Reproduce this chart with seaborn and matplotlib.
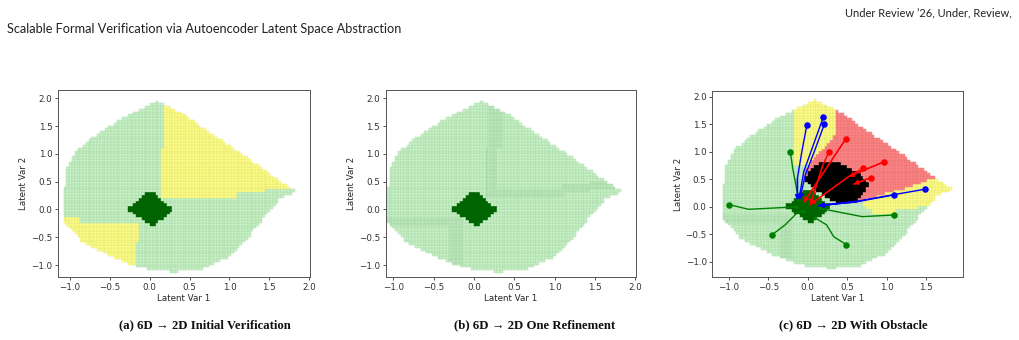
import numpy as np
import matplotlib
matplotlib.use("Agg")
import matplotlib.pyplot as plt
import seaborn as sns
from matplotlib.path import Path
from matplotlib.collections import PolyCollection

# ---------------- data ----------------
grid_x0, grid_x1, grid_dx = -1.08, 1.87, 0.035
grid_y0, grid_y1, grid_dy = -1.14, 1.99, 0.05

# reachable latent domain boundary
domain_x = [0.09, 0.37, 0.83, 1.26, 1.68, 1.83, 1.64, 1.47, 1.26, 1.01, 0.63, 0.30, 0.00,
            -0.29, -0.58, -0.85, -1.065, -1.07, -1.04, -0.92, -0.70, -0.45, -0.22]
domain_y = [1.96, 1.76, 1.31, 0.89, 0.46, 0.32, 0.20, -0.07, -0.455, -0.845, -1.08, -1.12, -1.08,
            -0.96, -0.77, -0.57, -0.22, 0.32, 0.70, 1.06, 1.30, 1.55, 1.72]

# goal set (dark green diamond)
goal_x = [-0.29, -0.05, 0.05, 0.30, 0.05]
goal_y = [0.00, 0.30, 0.30, 0.00, -0.31]

# (a) unverified (yellow) regions
ya1_x = [0.14, 1.09, 1.09, 1.43, 1.43, 2.50, 2.50, 0.19, 0.19, 0.14]
ya1_y = [0.22, 0.22, 0.30, 0.30, 0.38, 0.38, 2.50, 2.50, 1.12, 1.12]
ya2_x = [-1.50, -0.88, -0.88, -0.13, -0.13, -0.18, -0.18, -1.50]
ya2_y = [-0.14, -0.14, -0.22, -0.22, -0.58, -0.58, -1.50, -1.50]

# (b) refined strips
refine_b = [(0.14, 0.27, 0.22, 1.12), (0.19, 0.36, 1.12, 1.95), (0.14, 1.12, 0.22, 0.36),
            (1.09, 1.45, 0.30, 0.44), (1.43, 1.80, 0.38, 0.50),
            (-1.10, -0.13, -0.30, -0.14), (-0.30, -0.13, -1.00, -0.14)]
refine_c = [(-1.10, -0.20, -0.28, -0.12), (-0.36, -0.20, -0.96, -0.12)]

# (c) regions
yc1_x = [-0.18, 0.35, 0.35, 0.30, 0.20, 0.10, 0.00, -0.18]
yc1_y = [2.50, 2.50, 1.37, 1.22, 1.07, 0.90, 0.75, 0.75]
red_x = [0.35, 2.50, 2.50, 1.55, 1.42, 0.72, 0.50, 0.30, 0.10, 0.00, -0.03, 0.00, 0.10, 0.20, 0.30, 0.35]
red_y = [2.50, 2.50, 0.55, 0.52, 0.42, 0.12, 0.04, 0.12, 0.30, 0.45, 0.60, 0.75, 0.90, 1.07, 1.22, 1.37]
yc2_x = [0.72, 1.42, 1.55, 2.50, 2.50, 1.50, 1.15, 1.10, 0.83, 0.80, 0.72]
yc2_y = [0.12, 0.42, 0.52, 0.55, -0.50, 0.00, -0.05, -0.13, -0.15, -0.05, 0.00]
obst_x = [-0.02, -0.01, 0.05, 0.16, 0.26, 0.37, 0.50, 0.62, 0.75, 0.78, 0.73, 0.665, 0.52, 0.41, 0.30, 0.16, 0.03]
obst_y = [0.49, 0.58, 0.73, 0.79, 0.83, 0.82, 0.73, 0.64, 0.49, 0.40, 0.28, 0.155, 0.06, 0.045, 0.12, 0.245, 0.40]

# (c) trajectories
traj_blue = [
    ([-0.01, -0.075, -0.13, -0.13], [1.49, 1.00, 0.52, 0.12]),
    ([0.20, 0.07, -0.05, -0.10, -0.11], [1.64, 1.12, 0.64, 0.22, 0.12]),
    ([0.21, 0.09, -0.03, -0.09, -0.10], [1.50, 1.03, 0.58, 0.20, 0.14]),
    ([1.49, 1.09, 0.62, 0.14], [0.32, 0.22, 0.10, 0.02]),
    ([1.09, 0.62, 0.14], [0.215, 0.09, 0.02]),
]
traj_red = [
    ([0.48, -0.05], [1.23, 0.08]),
    ([0.27, 0.19, 0.03], [1.00, 0.75, 0.03]),
    ([0.97, 0.52], [0.82, 0.55]),
    ([0.70, 0.52, 0.03], [0.70, 0.55, 0.04]),
    ([0.80, 0.58], [0.53, 0.41]),
]
traj_green = [
    ([-0.22, -0.19, -0.15, -0.12], [1.00, 0.70, 0.40, 0.15]),
    ([-1.00, -0.75, -0.25, -0.15], [0.04, -0.046, -0.01, 0.00]),
    ([-0.455, -0.286, -0.14, -0.06], [-0.514, -0.33, -0.12, -0.07]),
    ([0.49, 0.33, 0.24, 0.09], [-0.69, -0.545, -0.33, -0.20]),
    ([1.09, 0.69, 0.37, 0.16], [-0.15, -0.18, -0.09, -0.03]),
]

xticks_ab = [-1.0, -0.5, 0.0, 0.5, 1.0, 1.5, 2.0]
xticks_c = [-1.0, -0.5, 0.0, 0.5, 1.0, 1.5]
yticks_all = [-1.0, -0.5, 0.0, 0.5, 1.0, 1.5, 2.0]

captions = ["(a) 6D \u2192 2D Initial Verification",
            "(b) 6D \u2192 2D One Refinement",
            "(c) 6D \u2192 2D With Obstacle"]

# ---------------- styling ----------------
sns.set_style("ticks")
plt.rcParams['font.family'] = ['DejaVu Sans']

STYLE = {
    'free':   ('#c8f3c8', '#a9d8a9'),
    'yellow': ('#ffff84', '#e2e27a'),
    'red':    ('#ff8585', '#e57373'),
    'goal':   ('#006400', '#006400'),
    'obst':   ('#000000', '#000000'),
}


def mkpath(xs, ys):
    return Path(np.column_stack([xs, ys]))


def draw_cells(ax, layers, refine):
    dom = mkpath(domain_x, domain_y)
    xs = np.arange(grid_x0, grid_x1, grid_dx)
    ys = np.arange(grid_y0, grid_y1, grid_dy)
    verts, fcs, ecs = [], [], []
    for x in xs:
        for y in ys:
            c = (x + grid_dx / 2, y + grid_dy / 2)
            if not dom.contains_point(c):
                continue
            cls = 'free'
            for name, p in layers:
                if p.contains_point(c):
                    cls = name
                    break
            n = 1
            if cls in ('free', 'yellow'):
                for (bx0, bx1, by0, by1) in refine:
                    if bx0 <= c[0] <= bx1 and by0 <= c[1] <= by1:
                        n = 2
                        break
            sx, sy = grid_dx / n, grid_dy / n
            for i in range(n):
                for j in range(n):
                    x0, y0 = x + i * sx, y + j * sy
                    verts.append([(x0, y0), (x0 + sx, y0), (x0 + sx, y0 + sy), (x0, y0 + sy)])
                    fcs.append(STYLE[cls][0])
                    ecs.append(STYLE[cls][1])
    pc = PolyCollection(verts, facecolors=fcs, edgecolors=ecs, linewidths=0.3, zorder=1)
    ax.add_collection(pc)


def style_axes(ax, xlim, ylim, xticks):
    ax.set_xlim(*xlim)
    ax.set_ylim(*ylim)
    ax.set_xticks(xticks)
    ax.set_yticks(yticks_all)
    ax.set_xticklabels([f"{t:.1f}".replace('-', '\u2212') for t in xticks])
    ax.set_yticklabels([f"{t:.1f}".replace('-', '\u2212') for t in yticks_all])
    ax.tick_params(labelsize=6.3, length=2.5, width=0.6, pad=1.5, colors='#333333')
    for s in ax.spines.values():
        s.set_visible(True)
        s.set_linewidth(0.7)
        s.set_color('#555555')
    ax.set_xlabel("Latent Var 1", fontsize=6.3, labelpad=1.5)
    ax.set_ylabel("Latent Var 2", fontsize=6.3, labelpad=2)


fig = plt.figure(figsize=(10.19, 3.40), dpi=100)
axa = fig.add_axes([0.0569, 0.1844, 0.2473, 0.551])
axb = fig.add_axes([0.3785, 0.1844, 0.2456, 0.551])
axc = fig.add_axes([0.6990, 0.1844, 0.2457, 0.549])

goal = mkpath(goal_x, goal_y)

# (a)
draw_cells(axa, [('goal', goal), ('yellow', mkpath(ya1_x, ya1_y)), ('yellow', mkpath(ya2_x, ya2_y))], [])
style_axes(axa, (-1.15, 2.01), (-1.22, 2.15), xticks_ab)

# (b)
draw_cells(axb, [('goal', goal)], refine_b)
style_axes(axb, (-1.094, 2.01), (-1.22, 2.15), xticks_ab)

# (c)
draw_cells(axc, [('goal', goal), ('obst', mkpath(obst_x, obst_y)), ('yellow', mkpath(yc1_x, yc1_y)),
                 ('red', mkpath(red_x, red_y)), ('yellow', mkpath(yc2_x, yc2_y))], refine_c)


def draw_traj(ax, trajs, color, arrow=True):
    for xs, ys in trajs:
        sns.lineplot(x=xs, y=ys, sort=False, estimator=None, color=color, lw=1.0, ax=ax, zorder=4)
        sns.scatterplot(x=[xs[0]], y=[ys[0]], color=color, s=22, edgecolor=color, linewidth=0, ax=ax, zorder=5)
        if arrow:
            ax.annotate("", xy=(xs[-1], ys[-1]), xytext=(xs[-2], ys[-2]),
                        arrowprops=dict(arrowstyle='-|>', color=color, lw=1.0, mutation_scale=7,
                                        shrinkA=0, shrinkB=0), zorder=5)
        else:
            sns.scatterplot(x=[xs[-1]], y=[ys[-1]], color=color, s=6, linewidth=0, ax=ax, zorder=5)


draw_traj(axc, traj_green, 'green', arrow=False)
draw_traj(axc, traj_blue, 'blue')
draw_traj(axc, traj_red, 'red')
style_axes(axc, (-1.21, 1.965), (-1.285, 2.115), xticks_c)

# page header and captions
fig.text(0.007, 0.915, "Scalable Formal Verification via Autoencoder Latent Space Abstraction",
         fontsize=9.2, family=['Lato', 'DejaVu Sans'], ha='left', va='center', color='#222222')
fig.text(0.993, 0.962, "Under Review \u201926, Under, Review,",
         fontsize=8.0, family=['Lato', 'DejaVu Sans'], ha='right', va='center', color='#222222')
for xc, cap in zip([205, 535, 853], captions):
    fig.text(xc / 1019, 1 - 325 / 340, cap, fontsize=9.2, fontweight='bold',
             family=['Liberation Serif', 'DejaVu Serif'], ha='center', va='center', color='#111111')

fig.savefig("out.png", dpi=100)
